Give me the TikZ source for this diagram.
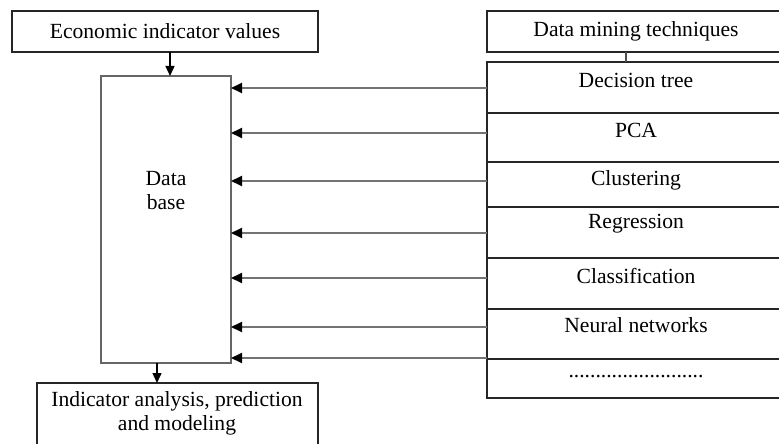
\documentclass[tikz,border=0pt]{standalone}
\usepackage{fontspec}
\setmainfont{Liberation Serif}
\usepackage{tikz}
\usetikzlibrary{arrows.meta, positioning, calc}

\tikzset{
  box/.style={draw=black!85, line width=0.8pt, anchor=north west, inner sep=0pt, outer sep=0pt,
    font=\fontsize{10.8}{12}\selectfont},
  rowbox/.style={box, minimum width=149pt},
  lbl/.style={font=\fontsize{10.8}{12}\selectfont, align=center, inner sep=0pt},
  feed/.style={draw=black!55, line width=0.9pt, -{Triangle[length=5.5pt,width=5pt,black]}},
  down/.style={black, line width=0.7pt, -{Triangle[length=5pt,width=4.5pt]}}
}

\begin{document}
\begin{tikzpicture}[x=0.5pt, y=-0.5pt]

    \useasboundingbox (0,0) rectangle (779,443);
    \clip (0,0) rectangle (779,443);

    \node[box, minimum width=153pt, minimum height=20.5pt] (econ) at (12,11) {Economic indicator values};
    \node[box, draw=black!60, minimum width=65pt, minimum height=143.5pt] (db) at (101,76) {};
    \node[lbl] (dbtxt) at (166,191) {Data\\base};
    \node[box, minimum width=140.5pt, minimum height=33pt] (out) at (37,383) {};
    \node[lbl] (outtxt) at (177,413) {Indicator analysis, prediction\\and modeling};

    \node[box, minimum width=149pt, minimum height=20.5pt] (dm) at (487,11) {Data mining techniques};
    \node[rowbox, minimum height=25.5pt] (r1) at (487,62) {};
    \node[rowbox, minimum height=24.5pt, below=0pt of r1] (r2) {};
    \node[rowbox, minimum height=22.5pt, below=0pt of r2] (r3) {};
    \node[rowbox, minimum height=25.5pt, below=0pt of r3] (r4) {};
    \node[rowbox, minimum height=25.5pt, below=0pt of r4] (r5) {};
    \node[rowbox, minimum height=25pt, below=0pt of r5] (r6) {};
    \node[rowbox, minimum height=19.5pt, below=0pt of r6] (r7) {};

    \node[lbl] (t1) at ([yshift=-9pt]r1.north) {Decision tree};
    \node[lbl] (t2) at ([yshift=-8.5pt]r2.north) {PCA};
    \node[lbl] (t3) at ([yshift=-9pt]r3.north) {Clustering};
    \node[lbl] (t4) at ([yshift=-8.5pt]r4.north) {Regression};
    \node[lbl] (t5) at ([yshift=-9pt]r5.north) {Classification};
    \node[lbl] (t6) at ([yshift=-8pt]r6.north) {Neural networks};
    \node[lbl] (t7) at ([yshift=-9pt]r7.north) {.........................};

    \draw[black!70, line width=0.8pt] ([xshift=-5pt]dm.south) -- ([xshift=-5pt]r1.north);
    \draw[down] (econ.south -| 170,0) -- (db.north -| 170,0);
    \draw[down] (db.south -| 157,0) -- (out.north -| 157,0);

    \foreach \r/\y in {r1/88, r2/133, r3/181, r4/233, r5/278, r6/327, r7/358}
        \draw[feed] (\r.west |- 0,\y) -- (db.east |- 0,\y);

\end{tikzpicture}
\end{document}
